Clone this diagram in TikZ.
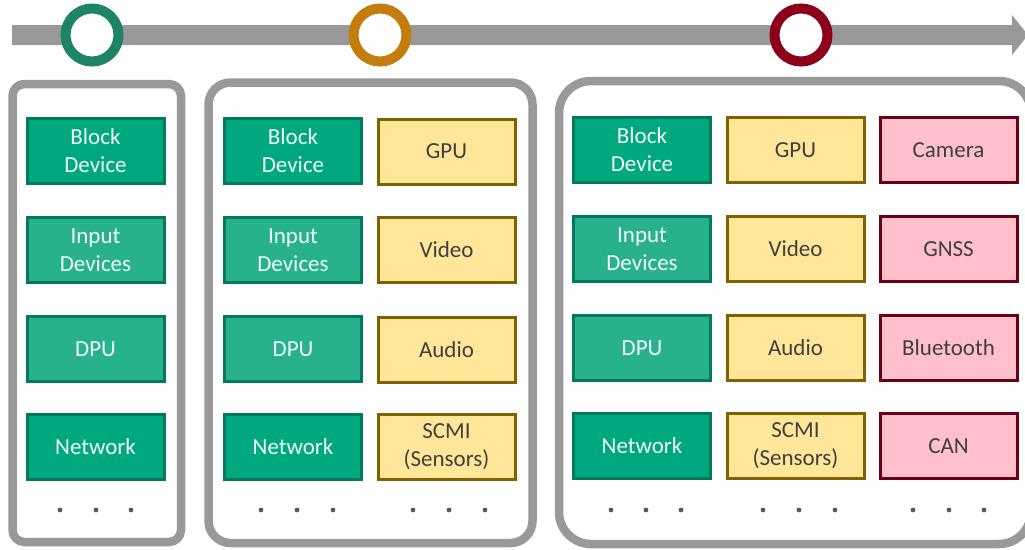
\documentclass[tikz,border=0pt]{standalone}
\usepackage{fontspec}
\setmainfont{Carlito}
\definecolor{railgray}{HTML}{999999}
\definecolor{ringgreen}{HTML}{1E8466}
\definecolor{ringorange}{HTML}{C47D0C}
\definecolor{ringred}{HTML}{8C001C}
\definecolor{greenA}{HTML}{00A87F}
\definecolor{greenB}{HTML}{27B18D}
\definecolor{greenline}{HTML}{007A5A}
\definecolor{yellowfill}{HTML}{FFE699}
\definecolor{yellowline}{HTML}{806000}
\definecolor{pinkfill}{HTML}{FFBFCB}
\definecolor{pinkline}{HTML}{6B0015}
\definecolor{darktext}{HTML}{404040}
\definecolor{dotgray}{HTML}{595959}
\begin{document}
\begin{tikzpicture}[x=1pt,y=-1pt,
  dev/.style={draw, line width=3pt, minimum width=137pt, minimum height=65pt,
    inner sep=0pt, align=center, font=\fontsize{23}{28}\selectfont},
  virtA/.style={dev, fill=greenA, draw=greenline, text=white!94!greenA},
  virtB/.style={dev, fill=greenB, draw=greenline, text=white!94!greenA},
  media/.style={dev, fill=yellowfill, draw=yellowline, text=darktext},
  auto/.style={dev, fill=pinkfill, draw=pinkline, text=darktext},
  panel/.style={draw=railgray, line width=8.5pt},
  milestone/.style={circle, draw, fill=white, line width=10pt, minimum size=53pt, inner sep=0pt},
  more/.style={fill=dotgray}
]
\useasboundingbox (0,0) rectangle (1025,549);
\clip (0,0) rectangle (1025,549);

% timeline arrow
\fill[railgray] (12,25) -- (1012,25) -- (1012,15) -- (1028,35) -- (1012,55)
  -- (1012,45) -- (12,45) -- cycle;

% milestones on the timeline
\node[milestone, draw=ringgreen]  (m1) at (92,35)  {};
\node[milestone, draw=ringorange] (m2) at (380,35) {};
\node[milestone, draw=ringred]    (m3) at (801,35) {};

% panels
\draw[panel, rounded corners=12] (12.5,84) rectangle (181,542);
\draw[panel, rounded corners=22] (208.5,82.5) rectangle (532.5,543);
\draw[panel, rounded corners=32] (559,81) rectangle (1031,544);

% first panel
\node[virtA] (p1a) at (95.5,151)  {Block\\Device};
\node[virtB] (p1b) at (95.5,250)  {Input\\Devices};
\node[virtB] (p1c) at (95.5,349)  {DPU};
\node[virtA] (p1d) at (95.5,447)  {Network};

% second panel
\node[virtA] (p2a) at (293,151)  {Block\\Device};
\node[virtB] (p2b) at (293,250)  {Input\\Devices};
\node[virtB] (p2c) at (293,349)  {DPU};
\node[virtA] (p2d) at (293,447)  {Network};
\node[media] (p2e) at (446.5,151.5) {GPU};
\node[media] (p2f) at (446.5,250)   {Video};
\node[media] (p2g) at (446.5,349.5) {Audio};
\node[media] (p2h) at (446.5,446.5) {SCMI\\(Sensors)};

% third panel
\node[virtA] (p3a) at (642,150)  {Block\\Device};
\node[virtB] (p3b) at (642,249)  {Input\\Devices};
\node[virtB] (p3c) at (642,348)  {DPU};
\node[virtA] (p3d) at (642,446)  {Network};
\node[media] (p3e) at (795.5,150) {GPU};
\node[media] (p3f) at (795.5,249) {Video};
\node[media] (p3g) at (795.5,348) {Audio};
\node[media] (p3h) at (795.5,446) {SCMI\\(Sensors)};
\node[auto]  (p3i) at (948.5,150) {Camera};
\node[auto]  (p3j) at (948.5,249) {GNSS};
\node[auto]  (p3k) at (948.5,348) {Bluetooth};
\node[auto]  (p3l) at (948.5,446) {CAN};

% ellipsis dots under each column
\foreach \x in {60,96,131, 261,297,333, 413,449,485, 611,646,681, 763,799,835, 913,949,984}
  \fill[more] (\x,510) circle (2.4);
\end{tikzpicture}
\end{document}
